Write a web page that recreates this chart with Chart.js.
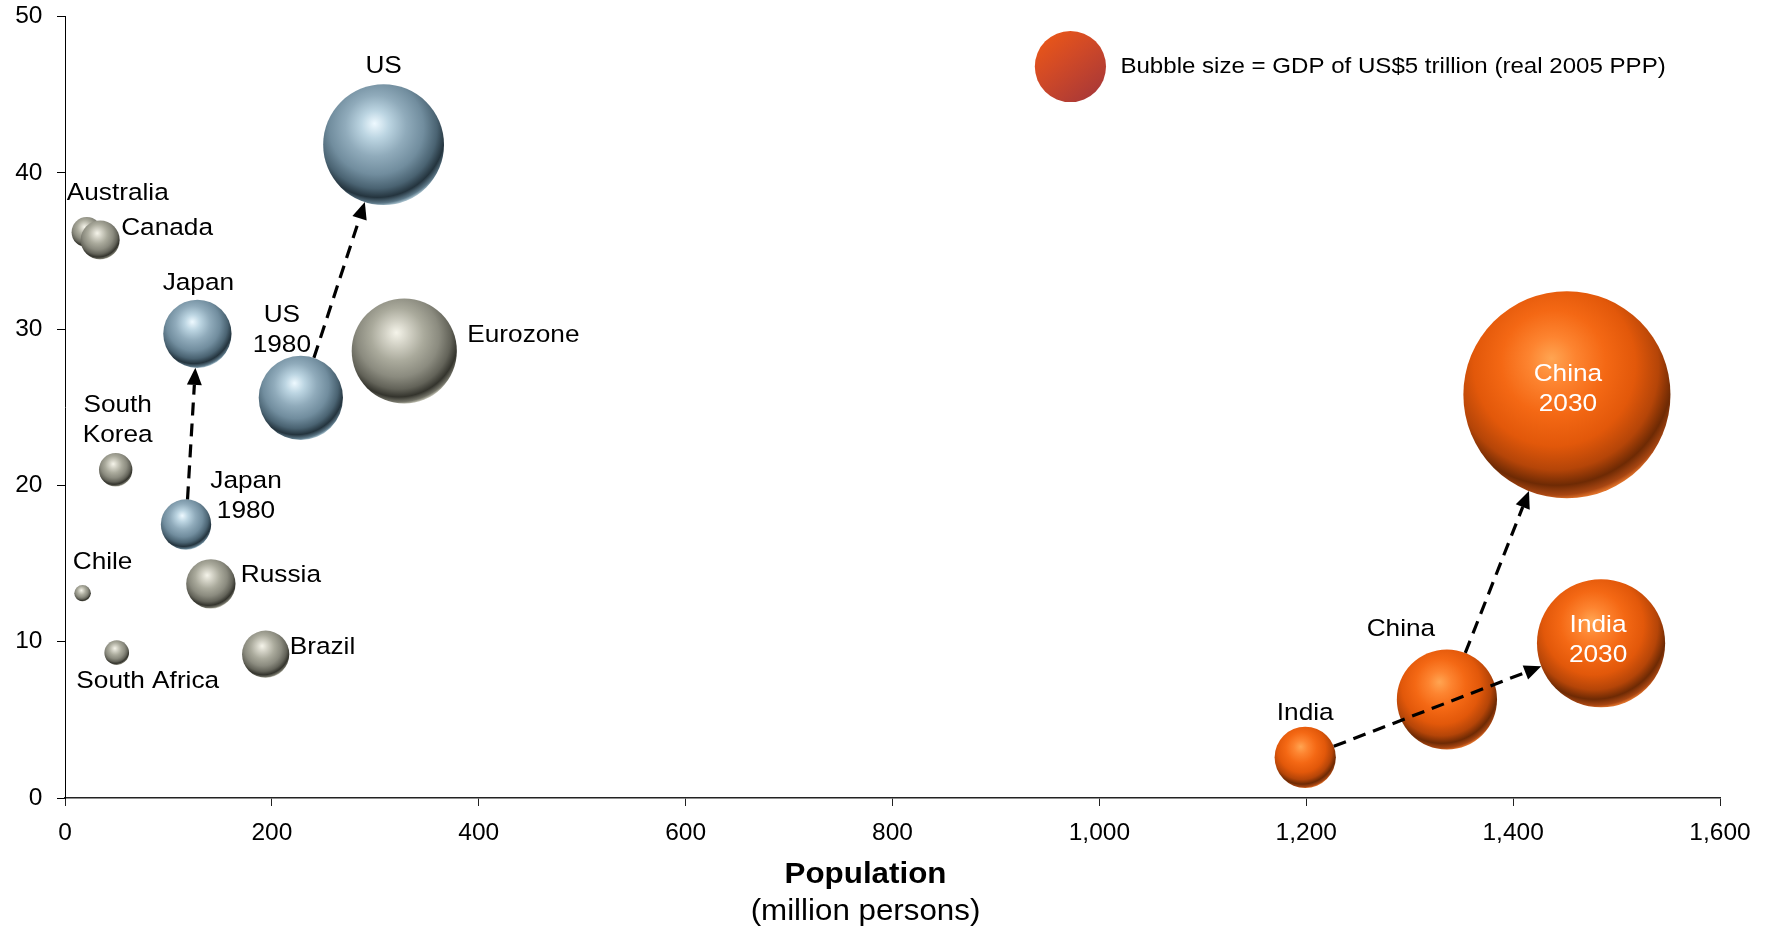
<!DOCTYPE html>
<html>
<head>
<meta charset="utf-8">
<script src="https://cdn.jsdelivr.net/npm/chart.js@4.4.0/dist/chart.umd.min.js"></script>
<style>
    html, body { margin: 0; padding: 0; background: #fff; }
</style>
</head>
<body>
<canvas id="bubbleChart" width="1773" height="932"></canvas>
<script>
// population (million persons), GDP per head (US$ '000, real 2005 PPP), GDP (US$ trillion)
const countries = ['Australia', 'Canada', 'US', 'Eurozone', 'US 1980', 'Japan', 'Japan 1980', 'South Korea',
    'Chile', 'Russia', 'South Africa', 'Brazil', 'India', 'China', 'India 2030', 'China 2030'];
const population = [21, 34, 308, 328, 228, 128, 117, 49, 17, 141, 50, 194, 1199, 1336, 1485, 1452];
const gdpPerHead = [36.2, 35.7, 41.8, 28.6, 25.6, 29.7, 17.5, 21.0, 13.1, 13.7, 9.3, 9.2, 2.6, 6.3, 9.9, 25.8];
const gdp = [0.9, 1.5, 14.4, 10.9, 7.0, 4.6, 2.5, 1.1, 0.27, 2.4, 0.6, 2.2, 3.7, 9.9, 16.2, 42.3];
const group = ['other', 'other', 'benchmark', 'other', 'benchmark', 'benchmark', 'benchmark', 'other',
    'other', 'other', 'other', 'other', 'giant', 'giant', 'giant', 'giant'];
const labelText = ['Australia', 'Canada', 'US', 'Eurozone', 'US\n1980', 'Japan', 'Japan\n1980', 'South\nKorea',
    'Chile', 'Russia', 'South Africa', 'Brazil', 'India', 'China', 'India\n2030', 'China\n2030'];
const arrows = [['Japan 1980', 'Japan'], ['US 1980', 'US'], ['India', 'India 2030'], ['China', 'China 2030']];

const legendGdp = 5;
const legendPosition = { x: 972, y: 46.8 };
const legendText = 'Bubble size = GDP of US$5 trillion (real 2005 PPP)';

const xTickValues = [0, 200, 400, 600, 800, 1000, 1200, 1400, 1600];
const yTickValues = [0, 10, 20, 30, 40, 50];

// styling
const FONT = '"Liberation Sans", Arial, sans-serif';
const legendRadius = 35.6; // px radius of a US$5 trillion bubble
const bubbleRadius = (v) => legendRadius * Math.sqrt(v / legendGdp);

const palettes = {
    benchmark: [[0, '#eef9ff'], [0.18, '#bcd5e2'], [0.4, '#90abbb'], [0.62, '#718d9e'], [0.79, '#4a6372'],
        [0.9, '#24343e'], [0.97, '#5c7787'], [1, '#9fb9c6']],
    other: [[0, '#f5f4ea'], [0.18, '#d3d2c6'], [0.4, '#aaaa9c'], [0.62, '#8b8b7f'], [0.79, '#636359'],
        [0.9, '#34342d'], [0.97, '#737368'], [1, '#b8b8aa']],
    giant: [[0, '#ffa552'], [0.18, '#fd8430'], [0.4, '#f46814'], [0.62, '#e2580a'], [0.79, '#b54508'],
        [0.9, '#6e2a04'], [0.97, '#a84612'], [1, '#de7028']]
};

const labelPlacement = {
    'US': { dx: 0, dy: -78 },
    'Eurozone': { dx: 63, dy: -16, align: 'left' },
    'US 1980': { dx: -19, dy: -83 },
    'Japan': { dx: 1, dy: -51 },
    'Japan 1980': { dx: 60, dy: -43 },
    'Australia': { dx: 31, dy: -39 },
    'Canada': { dx: 21, dy: -12, align: 'left' },
    'South Korea': { dx: 2, dy: -65 },
    'Chile': { dx: 20, dy: -31 },
    'Russia': { dx: 30, dy: -9, align: 'left' },
    'South Africa': { dx: 31, dy: 29 },
    'Brazil': { dx: 24, dy: -7, align: 'left' },
    'India': { dx: 0, dy: -44 },
    'China': { dx: -46, dy: -70 },
    'India 2030': { dx: -3, dy: -18, color: '#fff' },
    'China 2030': { dx: 1, dy: -20, color: '#fff' }
};

function pixelOf(context) {
    const chart = context.chart;
    if (!context.raw || !chart.scales.x || !chart.scales.y) return null;
    const x = chart.scales.x.getPixelForValue(context.raw.x);
    const y = chart.scales.y.getPixelForValue(context.raw.y);
    if (!isFinite(x) || !isFinite(y)) return null;
    return { x, y, r: context.raw.r };
}

function sphereFill(context) {
    const pal = palettes[group[context.dataIndex]] || palettes.other;
    const p = pixelOf(context);
    if (!p) return pal[3][1];
    const { x, y, r } = p;
    const g = context.chart.ctx.createRadialGradient(x - 0.15 * r, y - 0.35 * r, 0, x - 0.1 * r, y - 0.25 * r, r * 1.26);
    pal.forEach(([t, c]) => g.addColorStop(t, c));
    return g;
}

function legendFill(context) {
    const p = pixelOf(context);
    if (!p) return '#c8452a';
    const { x, y, r } = p;
    const g = context.chart.ctx.createLinearGradient(x - r, y - r, x + r * 0.6, y + r);
    g.addColorStop(0, '#f05a14');
    g.addColorStop(0.45, '#d24a26');
    g.addColorStop(1, '#a83838');
    return g;
}

// text in the original is a little wider than Arial, so stretch it horizontally
function drawText(ctx, text, x, y, align, stretch) {
    ctx.save();
    ctx.translate(x, y);
    ctx.scale(stretch, 1);
    ctx.textAlign = align;
    ctx.fillText(text, 0, 0);
    ctx.restore();
}

const overlayPlugin = {
    id: 'overlay',
    afterDatasetsDraw(chart) {
        const ctx = chart.ctx;
        const meta = chart.getDatasetMeta(0);
        ctx.save();

        // dashed arrows, edge to edge
        ctx.strokeStyle = '#000';
        ctx.fillStyle = '#000';
        ctx.lineWidth = 3.2;
        arrows.forEach(([from, to]) => {
            const a = meta.data[countries.indexOf(from)];
            const b = meta.data[countries.indexOf(to)];
            const dx = b.x - a.x, dy = b.y - a.y;
            const len = Math.hypot(dx, dy);
            const ux = dx / len, uy = dy / len;
            const sx = a.x + ux * a.options.radius, sy = a.y + uy * a.options.radius;
            const tx = b.x - ux * b.options.radius, ty = b.y - uy * b.options.radius;
            const head = 17, half = 7.5;
            ctx.setLineDash([13, 8]);
            ctx.beginPath();
            ctx.moveTo(sx, sy);
            ctx.lineTo(tx - ux * head, ty - uy * head);
            ctx.stroke();
            ctx.setLineDash([]);
            ctx.beginPath();
            ctx.moveTo(tx, ty);
            ctx.lineTo(tx - ux * head - uy * half, ty - uy * head + ux * half);
            ctx.lineTo(tx - ux * head + uy * half, ty - uy * head - ux * half);
            ctx.closePath();
            ctx.fill();
        });

        // bubble labels
        ctx.font = '24.5px ' + FONT;
        ctx.textBaseline = 'middle';
        countries.forEach((name, i) => {
            const el = meta.data[i];
            const p = labelPlacement[name];
            ctx.fillStyle = p.color || '#000';
            labelText[i].split('\n').forEach((line, k) => {
                drawText(ctx, line, el.x + p.dx, el.y + p.dy + k * 30, p.align || 'center', 1.07);
            });
        });

        // legend text
        const lg = chart.getDatasetMeta(1).data[0];
        ctx.font = '22.5px ' + FONT;
        ctx.fillStyle = '#000';
        drawText(ctx, legendText, lg.x + 50, lg.y, 'left', 1.07);

        // x axis title
        const area = chart.chartArea;
        const cx = (area.left + area.right) / 2 - 27;
        ctx.font = 'bold 29px ' + FONT;
        drawText(ctx, 'Population', cx, 875, 'center', 1.08);
        ctx.font = '29px ' + FONT;
        drawText(ctx, '(million persons)', cx, 912, 'center', 1.08);
        ctx.restore();
    }
};

document.addEventListener('DOMContentLoaded', function () {
    const ctx = document.getElementById('bubbleChart').getContext('2d');
    const bubbleChart = new Chart(ctx, {
        type: 'bubble',
        data: {
            datasets: [{
                label: 'Economies',
                data: countries.map((c, i) => ({ x: population[i], y: gdpPerHead[i], r: bubbleRadius(gdp[i]) })),
                backgroundColor: sphereFill,
                borderWidth: 0,
                clip: false
            }, {
                label: 'Bubble size',
                data: [{ x: legendPosition.x, y: legendPosition.y, r: bubbleRadius(legendGdp) }],
                backgroundColor: legendFill,
                borderWidth: 0,
                clip: false
            }]
        },
        options: {
            responsive: false,
            animation: false,
            events: [],
            layout: { autoPadding: false, padding: { top: 0, right: 53, bottom: 0, left: 0 } },
            plugins: {
                legend: { display: false },
                tooltip: { enabled: false }
            },
            scales: {
                x: {
                    type: 'linear',
                    min: 0,
                    max: 1600,
                    afterBuildTicks: (scale) => { scale.ticks = xTickValues.map(v => ({ value: v })); },
                    afterFit: (scale) => { scale.height = 134; },
                    border: { display: true, color: '#222', width: 1.6 },
                    grid: { drawOnChartArea: false, drawTicks: true, tickLength: 8, color: '#222' },
                    ticks: {
                        color: '#000',
                        padding: 13,
                        maxRotation: 0,
                        font: { family: FONT, size: 24.5 },
                        callback: (v) => v.toLocaleString('en-US')
                    }
                },
                y: {
                    type: 'linear',
                    min: 0,
                    max: 50,
                    afterBuildTicks: (scale) => { scale.ticks = yTickValues.map(v => ({ value: v })); },
                    afterFit: (scale) => {
                        scale.width = 65;
                        scale.paddingTop = 16.5;
                        scale.paddingBottom = 0;
                    },
                    border: { display: true, color: '#000', width: 1 },
                    grid: { drawOnChartArea: false, drawTicks: true, tickLength: 8, color: '#000' },
                    ticks: {
                        color: '#000',
                        padding: 14.5,
                        font: { family: FONT, size: 24.5 }
                    }
                }
            }
        },
        plugins: [overlayPlugin]
    });
});
</script>
</body>
</html>
